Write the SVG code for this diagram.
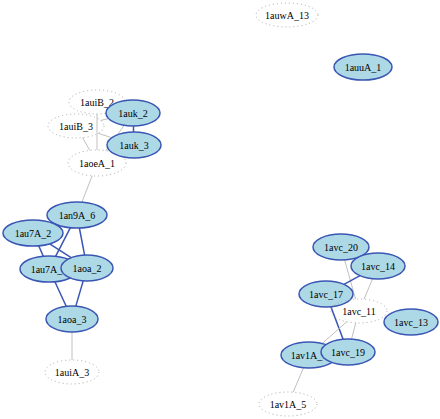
<svg xmlns="http://www.w3.org/2000/svg" width="440" height="419" viewBox="0 0 440 419">
<style>
.bg{fill:#ffffff}
.n ellipse{fill:#add8e6;stroke:#3a56b4;stroke-width:1.5}
.d ellipse{fill:none;stroke:#a8a8a8;stroke-width:1;stroke-dasharray:1 3}
text{font-family:"Liberation Serif","Times New Roman",serif;font-size:10px;fill:#000;text-anchor:middle;dominant-baseline:central}
.e line{stroke:#c0c0c0;stroke-width:1}
.e line.b{stroke:#3a56b4;stroke-width:1.5}
</style>
<rect class="bg" x="0" y="0" width="440" height="419"/>
<g id="edges" class="e">
<line x1="97" y1="114" x2="97" y2="150"/>
<line x1="82.6" y1="137.7" x2="89.8" y2="150.4"/>
<line x1="100.7" y1="120.4" x2="108.6" y2="118.6"/>
<line x1="98.2" y1="133.3" x2="111.7" y2="137.7"/>
<line x1="105.9" y1="150.6" x2="124.2" y2="125.3"/>
<line class="b" x1="133.5" y1="126" x2="133.5" y2="132"/>
<line x1="92.1" y1="175.8" x2="81.9" y2="202.2"/>
<line class="b" x1="70.4" y1="227.7" x2="55.6" y2="256.3"/>
<line class="b" x1="79.4" y1="228" x2="84.6" y2="255.1"/>
<line class="b" x1="38.7" y1="245.8" x2="43.3" y2="256.2"/>
<line class="b" x1="49.7" y1="243.8" x2="71.1" y2="257.7"/>
<line class="b" x1="54.9" y1="281.7" x2="66.2" y2="306.3"/>
<line class="b" x1="83.2" y1="280.9" x2="75.8" y2="306.1"/>
<line x1="72" y1="332" x2="72" y2="360"/>
<line x1="344.6" y1="259.9" x2="355.6" y2="299.1"/>
<line x1="372.6" y1="278.7" x2="364" y2="299.2"/>
<line class="b" x1="344" y1="284.3" x2="360" y2="275.7"/>
<line class="b" x1="330.9" y1="306.8" x2="343.1" y2="339.2"/>
<line x1="346.7" y1="321.8" x2="322.1" y2="343.5"/>
<line x1="355.8" y1="322.9" x2="351.5" y2="339.1"/>
<line x1="303.5" y1="367.8" x2="293.1" y2="392.2"/>
</g>
<g id="n_1auwA_13" class="d"><ellipse cx="287" cy="15" rx="31" ry="12"/><text x="287" y="15">1auwA_13</text></g>
<g id="n_1auuA_1" class="n"><ellipse cx="363" cy="67" rx="29" ry="13"/><text x="363" y="67">1auuA_1</text></g>
<g id="n_1auiB_2" class="d"><ellipse cx="97" cy="102" rx="28" ry="12"/><text x="97" y="102">1auiB_2</text></g>
<g id="n_1auiB_3" class="d"><ellipse cx="76" cy="126" rx="28" ry="12"/><text x="76" y="126">1auiB_3</text></g>
<g id="n_1aoeA_1" class="d"><ellipse cx="97" cy="163" rx="29" ry="13"/><text x="97" y="163">1aoeA_1</text></g>
<g id="n_1auk_2" class="n"><ellipse cx="133" cy="113" rx="27" ry="13"/><text x="133" y="113">1auk_2</text></g>
<g id="n_1auk_3" class="n"><ellipse cx="134" cy="145" rx="27" ry="13"/><text x="134" y="145">1auk_3</text></g>
<g id="n_1an9A_6" class="n"><ellipse cx="77" cy="215" rx="30" ry="13"/><text x="77" y="215">1an9A_6</text></g>
<g id="n_1au7A_2" class="n"><ellipse cx="33" cy="233" rx="30" ry="13"/><text x="33" y="233">1au7A_2</text></g>
<g id="n_1au7A_1" class="n"><ellipse cx="49" cy="269" rx="29" ry="13"/><text x="49" y="269">1au7A_1</text></g>
<g id="n_1aoa_2" class="n"><ellipse cx="87" cy="268" rx="26" ry="13"/><text x="87" y="268">1aoa_2</text></g>
<g id="n_1aoa_3" class="n"><ellipse cx="72" cy="319" rx="26" ry="13"/><text x="72" y="319">1aoa_3</text></g>
<g id="n_1auiA_3" class="d"><ellipse cx="72" cy="372" rx="27" ry="12"/><text x="72" y="372">1auiA_3</text></g>
<g id="n_1avc_20" class="n"><ellipse cx="341" cy="247" rx="28" ry="13"/><text x="341" y="247">1avc_20</text></g>
<g id="n_1avc_14" class="n"><ellipse cx="378" cy="266" rx="27" ry="13"/><text x="378" y="266">1avc_14</text></g>
<g id="n_1avc_17" class="n"><ellipse cx="326" cy="294" rx="27" ry="13"/><text x="326" y="294">1avc_17</text></g>
<g id="n_1avc_11" class="d"><ellipse cx="359" cy="311" rx="28" ry="12"/><text x="359" y="311">1avc_11</text></g>
<g id="n_1avc_13" class="n"><ellipse cx="411" cy="322" rx="27" ry="13"/><text x="411" y="322">1avc_13</text></g>
<g id="n_1av1A_1" class="n"><ellipse cx="309" cy="355" rx="28" ry="13"/><text x="309" y="355">1av1A_1</text></g>
<g id="n_1avc_19" class="n"><ellipse cx="348" cy="352" rx="27" ry="13"/><text x="348" y="352">1avc_19</text></g>
<g id="n_1av1A_5" class="d"><ellipse cx="288" cy="404" rx="29" ry="12"/><text x="288" y="404">1av1A_5</text></g>
</svg>
